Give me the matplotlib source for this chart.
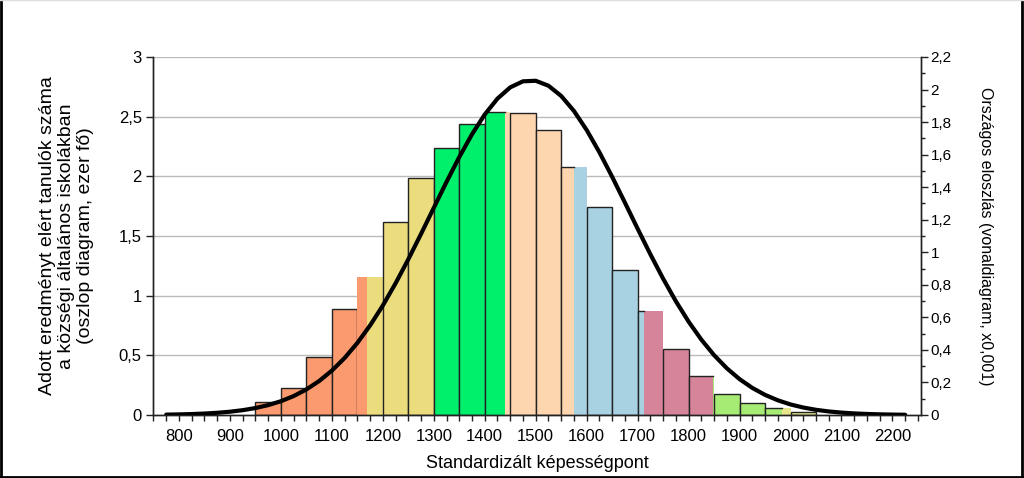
#  Libraries
import matplotlib
matplotlib.use('Agg')
import matplotlib.pyplot as plt
from matplotlib.lines import Line2D
from matplotlib.ticker import MultipleLocator, FuncFormatter

plt.rcParams['font.family'] = ['Liberation Sans', 'DejaVu Sans']

#  Data
# bars: left edge of each 50-point band, number of students (thousand)
bar_left = [950, 1000, 1050, 1100, 1150, 1200, 1250, 1300, 1350, 1400, 1450,
            1500, 1550, 1600, 1650, 1700, 1750, 1800, 1850, 1900, 1950, 2000]
bar_height = [0.11, 0.23, 0.49, 0.89, 1.155, 1.62, 1.99, 2.24, 2.44, 2.54, 2.53,
              2.385, 2.08, 1.745, 1.216, 0.872, 0.556, 0.325, 0.174, 0.103, 0.056, 0.028]
bar_width = 50

# proficiency level limits and colours
level_limits = [1168, 1300, 1440, 1576, 1712, 1848, 1984]
level_colors = ['#FA9A6E', '#EBDD7E', '#00F06C', '#FDD5AE', '#A8D2E2',
                '#D6849A', '#A6EB74', '#E8E68C']

# national distribution curve (x0.001)
curve_x = list(range(775, 2226, 25))
curve_y = [0.0023, 0.0037, 0.0058, 0.0089, 0.0135, 0.0202, 0.0296, 0.0427, 0.0607,
           0.0847, 0.1163, 0.1571, 0.2087, 0.2727, 0.3503, 0.4428, 0.5503, 0.6729,
           0.8091, 0.9567, 1.1128, 1.2730, 1.4323, 1.5850, 1.7252, 1.8467, 1.9442,
           2.0133, 2.0504, 2.0538, 2.0234, 1.9605, 1.8683, 1.7511, 1.6144, 1.4636,
           1.3053, 1.1447, 0.9875, 0.8378, 0.6990, 0.5738, 0.4631, 0.3677, 0.2871,
           0.2205, 0.1665, 0.1237, 0.0904, 0.0649, 0.0459, 0.0319, 0.0218, 0.0147,
           0.0097, 0.0063, 0.0040, 0.0025, 0.0016]

x_ticks = list(range(800, 2201, 100))


def level_of(x):
    lvl = 0
    for lim in level_limits:
        if x >= lim:
            lvl += 1
    return lvl


#  Figure
fig = plt.figure(figsize=(10.24, 4.78), dpi=100)
ax = fig.add_axes([0.1494, 0.1318, 0.75, 0.749])
ax2 = ax.twinx()

ax.set_zorder(ax2.get_zorder() - 1)
ax.patch.set_visible(True)
ax2.patch.set_visible(False)

# grid
for g in [0.5, 1, 1.5, 2, 2.5, 3]:
    ax.axhline(g, color='#BBBBBB', lw=1, zorder=0)

# bars, split where a level limit falls inside a band
for left, h in zip(bar_left, bar_height):
    right = left + bar_width
    cuts = [left] + [l for l in level_limits if left < l < right] + [right]
    for i in range(len(cuts) - 1):
        a, b = cuts[i], cuts[i + 1]
        col = level_colors[level_of(a)]
        if len(cuts) == 2:
            ax.bar(a, h, width=b - a, align='edge', color=col,
                   edgecolor='#222222', linewidth=1, zorder=2)
        else:
            ax.bar(a, h, width=b - a, align='edge', color=col,
                   edgecolor='none', linewidth=0, zorder=2)
            if i == 0 and left != 1150:
                ax.plot([a, a, b], [0, h, h], color='#222222', lw=1, zorder=3)

# curve on secondary axis
ax2.plot(curve_x, curve_y, color='black', lw=3.0, solid_capstyle='round', zorder=4)

# axes limits
ax.set_xlim(749, 2256)
ax.set_ylim(0, 3)
ax2.set_ylim(0, 2.2)

comma = FuncFormatter(lambda v, p: ('%g' % round(v, 2)).replace('.', ','))

ax.set_yticks([0, 0.5, 1, 1.5, 2, 2.5, 3])
ax.yaxis.set_major_formatter(comma)
ax2.set_yticks([0, 0.2, 0.4, 0.6, 0.8, 1, 1.2, 1.4, 1.6, 1.8, 2, 2.2])
ax2.yaxis.set_major_formatter(comma)
ax2.yaxis.set_minor_locator(MultipleLocator(0.1))

ax.set_xticks(x_ticks)
ax.xaxis.set_minor_locator(MultipleLocator(25))

ax.tick_params(axis='x', which='major', length=4, width=1, labelsize=12, pad=6, color='#222222')
ax.tick_params(axis='x', which='minor', length=4, width=1, color='#222222')
ax.tick_params(axis='y', which='major', length=5, width=1, labelsize=12, pad=3, color='#222222')
ax2.tick_params(axis='y', which='major', length=5, width=1, labelsize=11, pad=2, color='#222222')
ax2.tick_params(axis='y', which='minor', length=3, width=1, color='#222222')

for a in (ax, ax2):
    a.spines['top'].set_visible(False)
    for s in ('left', 'right', 'bottom'):
        a.spines[s].set_color('#222222')
        a.spines[s].set_linewidth(1)

ax.set_xlabel('Standardizált képességpont', fontsize=13, labelpad=8)
ax.set_ylabel('Adott eredményt elért tanulók száma\na községi általános iskolákban\n(oszlop diagram, ezer fő)',
              fontsize=14, labelpad=18, linespacing=1.15)
ax2.set_ylabel('Országos eloszlás (vonaldiagram, x0,001)', fontsize=11.5,
               rotation=-90, labelpad=30)

# outer frame
fig.add_artist(Line2D([0.001, 0.001], [0, 1], color='black', lw=2, transform=fig.transFigure))
fig.add_artist(Line2D([0.998, 0.998], [0, 1], color='black', lw=2, transform=fig.transFigure))
fig.add_artist(Line2D([0, 1], [0.003, 0.003], color='black', lw=2, transform=fig.transFigure))
fig.add_artist(Line2D([0, 1], [0.999, 0.999], color='#DDDDDD', lw=1, transform=fig.transFigure))

fig.savefig('out.png', dpi=100)
